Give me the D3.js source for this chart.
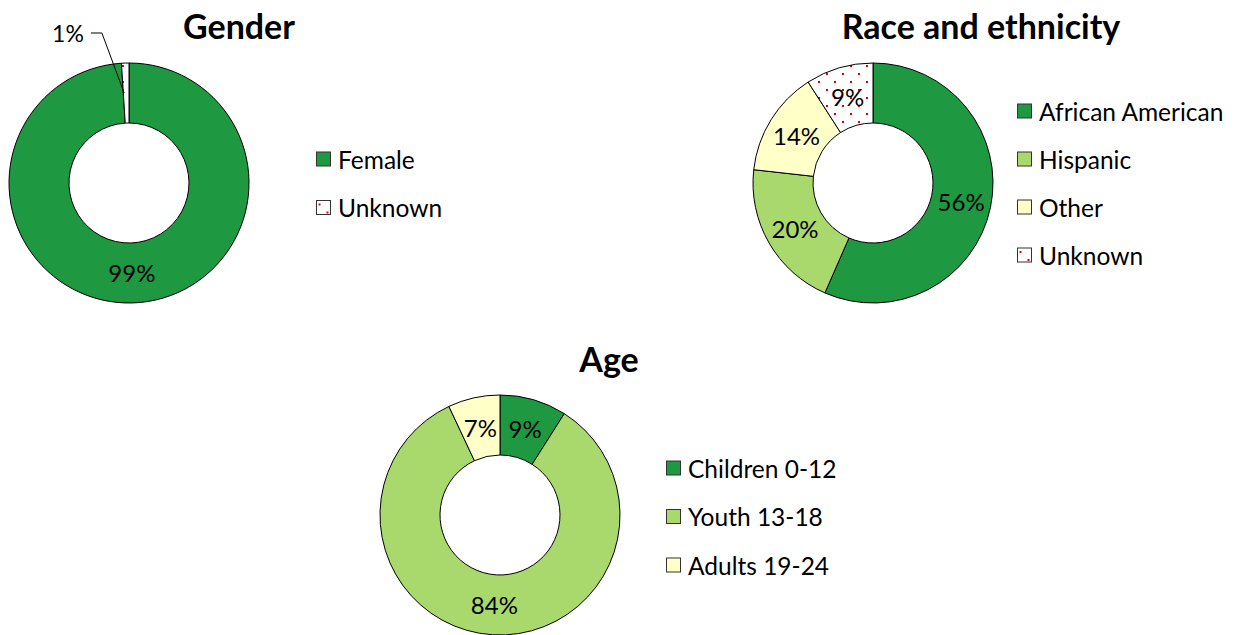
<!DOCTYPE html>
<html>
<head>
<meta charset="utf-8">
<script src="https://cdn.jsdelivr.net/npm/d3@7/dist/d3.min.js"></script>
<style>
  html, body { margin: 0; padding: 0; background: #fff; }
  svg text { font-family: Lato, "Open Sans", sans-serif; fill: #000; }
</style>
</head>
<body>
<svg id="chart" width="1235" height="635"></svg>
<script>
// Demographic breakdowns (percent of participants)
const genderCategories = ["Female", "Unknown"];
const genderValues = [99, 1];

const raceCategories = ["African American", "Hispanic", "Other", "Unknown"];
const raceValues = [56, 20, 14, 9];

const ageCategories = ["Children 0-12", "Youth 13-18", "Adults 19-24"];
const ageValues = [9, 84, 7];

const svg = d3.select("#chart");
const defs = svg.append("defs");

// Dotted fill used for "Unknown"
const pat = defs.append("pattern")
  .attr("id", "dots")
  .attr("patternUnits", "userSpaceOnUse")
  .attr("x", 1).attr("y", 2)
  .attr("width", 16).attr("height", 16);
pat.append("rect").attr("width", 16).attr("height", 16).attr("fill", "#fff");
pat.append("rect").attr("x", 0).attr("y", 0).attr("width", 2).attr("height", 2).attr("fill", "#e00000");
pat.append("rect").attr("x", 8).attr("y", 8).attr("width", 2).attr("height", 2).attr("fill", "#e00000");

// Small-scale dots for the legend swatch
const pat2 = defs.append("pattern")
  .attr("id", "dotsSmall")
  .attr("patternUnits", "objectBoundingBox")
  .attr("width", 1).attr("height", 1);
pat2.append("rect").attr("width", 14).attr("height", 14).attr("fill", "#fff");
pat2.append("rect").attr("x", 2).attr("y", 3).attr("width", 2).attr("height", 2).attr("fill", "#e00000");
pat2.append("rect").attr("x", 10).attr("y", 11).attr("width", 2).attr("height", 2).attr("fill", "#e00000");

const fillFor = (name, i, legend) => name === "Unknown"
  ? (legend ? "url(#dotsSmall)" : "url(#dots)")
  : ["#1f9842", "#a9d96c", "#ffffc8"][i];

function donut(cfg) {
  const g = svg.append("g").attr("transform", `translate(${cfg.cx},${cfg.cy})`);
  const pie = d3.pie().sort(null).value(d => d.value);
  const data = cfg.categories.map((c, i) => ({ name: c, value: cfg.values[i], i }));
  const arcs = pie(data);
  const arc = d3.arc().innerRadius(60).outerRadius(120);
  const labelArc = d3.arc().innerRadius(90).outerRadius(90);

  g.selectAll("path.slice").data(arcs).join("path")
    .attr("class", "slice")
    .attr("d", arc)
    .attr("fill", d => fillFor(d.data.name, d.data.i))
    .attr("stroke", "#000").attr("stroke-width", 1);

  arcs.forEach(d => {
    if (cfg.outside && cfg.outside.includes(d.data.name)) {
      const [px, py] = labelArc.centroid(d);
      const lx = cfg.outsideLabel[0] - cfg.cx, ly = cfg.outsideLabel[1] - cfg.cy;
      const t = g.append("text").attr("x", lx).attr("y", ly)
        .attr("text-anchor", "middle").attr("dominant-baseline", "central")
        .attr("font-size", 23).text(d.data.value + "%");
      const w = t.node().getComputedTextLength();
      g.append("path")
        .attr("d", `M${lx + w / 2 + 7},${ly}H${lx + w / 2 + 18}L${px - 2},${py}`)
        .attr("fill", "none").attr("stroke", "#000").attr("stroke-width", 1);
    } else {
      const [x, y] = labelArc.centroid(d);
      g.append("text").attr("x", x).attr("y", y)
        .attr("text-anchor", "middle").attr("dominant-baseline", "central")
        .attr("font-size", 24).text(d.data.value + "%");
    }
  });

  svg.append("text").attr("x", cfg.title[0]).attr("y", cfg.title[1])
    .attr("text-anchor", "middle").attr("dominant-baseline", "central")
    .attr("font-size", 34).attr("font-weight", "bold").text(cfg.titleText);

  const leg = svg.append("g").attr("transform", `translate(${cfg.legend[0]},${cfg.legend[1]})`);
  const rows = leg.selectAll("g").data(data).join("g")
    .attr("transform", (d, i) => `translate(0,${i * cfg.legendStep})`);
  rows.append("rect").attr("x", 0.5).attr("y", -7).attr("width", 14).attr("height", 14)
    .attr("fill", d => fillFor(d.name, d.i, true)).attr("stroke", "#333").attr("stroke-width", 1);
  rows.append("text").attr("x", 22).attr("y", 0).attr("dominant-baseline", "central")
    .attr("font-size", 24.5).text(d => d.name);
}

donut({ cx: 129, cy: 183, categories: genderCategories, values: genderValues,
  title: [239, 25], titleText: "Gender", legend: [316, 159], legendStep: 48.5,
  outside: ["Unknown"], outsideLabel: [68, 33] });

donut({ cx: 873, cy: 183, categories: raceCategories, values: raceValues,
  title: [981, 25], titleText: "Race and ethnicity", legend: [1017, 111], legendStep: 48 });

donut({ cx: 500, cy: 515, categories: ageCategories, values: ageValues,
  title: [609, 358], titleText: "Age", legend: [666, 468], legendStep: 48.5 });
</script>
</body>
</html>
